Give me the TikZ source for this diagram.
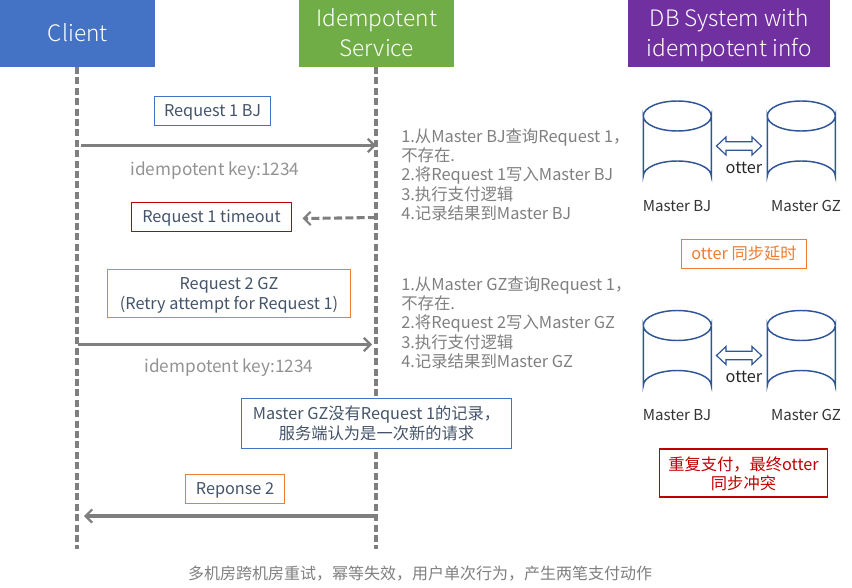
\documentclass[tikz,border=0pt]{standalone}
\usepackage{fontspec}
\setmainfont{Noto Sans CJK SC}
\newfontfamily\hdrfont{Noto Sans CJK SC Light}
\usetikzlibrary{arrows.meta}
\definecolor{cblue}{HTML}{4472C4}
\definecolor{cgreen}{HTML}{70AD47}
\definecolor{cpurple}{HTML}{7030A0}
\definecolor{corange}{HTML}{ED7D31}
\definecolor{cred}{HTML}{C00000}
\definecolor{cgray}{HTML}{7F7F7F}
\definecolor{ctext}{HTML}{44546A}
\definecolor{cdb}{HTML}{2F5597}
% text set slightly lower than its box centre, the box keeping its place
\newcommand{\low}[1]{\raisebox{-1.4pt}[\height][\depth]{\begin{tabular}{@{}c@{}}#1\end{tabular}}}
\newcommand{\lowmore}[1]{\raisebox{-2.4pt}[\height][\depth]{\begin{tabular}{@{}c@{}}#1\end{tabular}}}
\newcommand{\hdrtext}[1]{\raisebox{-1.5pt}[\height][\depth]{\begin{tabular}{@{}c@{}}#1\end{tabular}}}
\tikzset{
  header/.style={fill=#1,text=white,font=\hdrfont\fontsize{17}{22.6}\selectfont,anchor=north west,inner sep=0pt},
  tag/.style={draw=#1,line width=0.8pt,fill=white,text=ctext,font=\fontsize{12.2}{14.7}\selectfont,inner sep=0pt},
  life/.style={cgray,line width=2.4pt,dash pattern=on 5.2pt off 2.6pt},
  msg/.style={-{Straight Barb[length=5pt,width=10pt,line width=1.6pt]},cgray,line width=2.3pt},
  note/.style={text=cgray,font=\fontsize{12.3}{14.6}\selectfont,align=left,anchor=north west,inner sep=0pt},
  keytext/.style={text=cgray!85,font=\fontsize{12.9}{16}\selectfont,inner sep=0pt},
  dbl/.style={text=black!80,font=\fontsize{11.3}{14}\selectfont,inner sep=0pt},
  otterlbl/.style={text=black!85,font=\fontsize{12.2}{16}\selectfont,inner sep=0pt},
  syncshape/.style={draw=cdb,line width=0.9pt,fill=white,line join=miter},
  dbshape/.style={draw=cdb,line width=1.1pt,fill=white},
}
\newcommand{\dbcyl}[2]{%
  \draw[dbshape] (#1,#2+15) -- (#1,#2+75) arc[start angle=180,end angle=360,x radius=34,y radius=15] -- (#1+68,#2+15) arc[start angle=0,end angle=180,x radius=34,y radius=15] -- cycle;
  \draw[dbshape] (#1,#2+15) arc[start angle=180,end angle=360,x radius=34,y radius=15];
}
\newcommand{\syncarrow}[2]{%
  \draw[syncshape] (#1-22.5,#2) -- (#1-13,#2-9) -- (#1-13,#2-4.3) -- (#1+13,#2-4.3) -- (#1+13,#2-9) -- (#1+22.5,#2) -- (#1+13,#2+9) -- (#1+13,#2+4.3) -- (#1-13,#2+4.3) -- (#1-13,#2+9) -- cycle;
}
\begin{document}
\begin{tikzpicture}[x=0.75pt,y=-0.75pt]
\useasboundingbox (0,0) rectangle (852,588);
% lifelines
\coordinate (cTop) at (77,67); \coordinate (cBot) at (77,549);
\coordinate (sTop) at (376,67); \coordinate (sBot) at (376,549);
\draw[life] (cTop) -- (cBot);
\draw[life] (sTop) -- (sBot);
% headers
\node[header=cblue,minimum width=116.25pt,minimum height=50.25pt] (client) at (0,0) {\hdrtext{Client}};
\node[header=cgreen,minimum width=116.25pt,minimum height=50.25pt] (svc) at (299,0) {\hdrtext{Idempotent\\Service}};
\node[header=cpurple,minimum width=151.5pt,minimum height=50.25pt] (dbsys) at (628,0) {\hdrtext{DB System with\\idempotent info}};
% messages
\node[tag=cblue,minimum width=87pt,minimum height=21.5pt] (r1) at (212.5,111) {\low{Request 1 BJ}};
\coordinate (m1a) at (81,145.5); \coordinate (m1b) at (376,145.5);
\draw[msg] (m1a) -- (m1b);
\node[keytext] (k1) at (215,171) {idempotent key:1234};
\node[tag=cred,minimum width=120pt,minimum height=21.5pt] (t1) at (211.5,217) {\low{Request 1 timeout}};
\coordinate (tb) at (376,217.5); \coordinate (te) at (302.5,218.5);
\draw[msg,dash pattern=on 6pt off 2.5pt] (tb) -- (te);
\node[tag=corange,minimum width=182pt,minimum height=36pt] (r2) at (229,293.5) {\low{Request 2 GZ\\(Retry attempt for Request 1)}};
\coordinate (m2a) at (78,344.5); \coordinate (m2b) at (372,344.5);
\draw[msg] (m2a) -- (m2b);
\node[keytext] (k2) at (229,368) {idempotent key:1234};
\node[tag=cblue,minimum width=202pt,minimum height=37pt] (gz) at (376.5,423.5) {\low{Master GZ没有Request 1的记录，\\服务端认为是一次新的请求}};
\node[tag=corange,minimum width=74.5pt,minimum height=21.5pt] (r3) at (235,489) {\low{Reponse 2}};
\coordinate (m3a) at (374,516); \coordinate (m3b) at (84,516);
\draw[msg] (m3a) -- (m3b);
% notes
\node[note] (n1) at (401,128) {1.从Master BJ查询Request 1，\\不存在.\\2.将Request 1写入Master BJ\\3.执行支付逻辑\\4.记录结果到Master BJ};
\node[note] (n2) at (401,276) {1.从Master GZ查询Request 1，\\不存在.\\2.将Request 2写入Master GZ\\3.执行支付逻辑\\4.记录结果到Master GZ};
% db top
\dbcyl{643.3}{101}
\dbcyl{767.3}{101}
\syncarrow{739}{146}
\node[otterlbl] (o1) at (744,168) {otter};
\node[dbl] (b1) at (677,206) {Master BJ};
\node[dbl] (g1) at (806,206) {Master GZ};
\node[tag=corange,minimum width=94pt,minimum height=21.5pt,text=corange] (lag) at (744,254) {\low{otter 同步延时}};
% db bottom
\dbcyl{643.3}{310.5}
\dbcyl{767.3}{310.5}
\syncarrow{739}{355.5}
\node[otterlbl] (o2) at (744,377) {otter};
\node[dbl] (b2) at (677,415) {Master BJ};
\node[dbl] (g2) at (806,415) {Master GZ};
\node[tag=cred,minimum width=126pt,minimum height=36pt,text=cred] (dup) at (743.5,473) {\lowmore{重复支付，最终otter\\同步冲突}};
% caption
\node[text=cgray,font=\fontsize{12}{14}\selectfont,inner sep=0pt] (cap) at (420,574) {多机房跨机房重试，幂等失效，用户单次行为，产生两笔支付动作};
\end{tikzpicture}
\end{document}
